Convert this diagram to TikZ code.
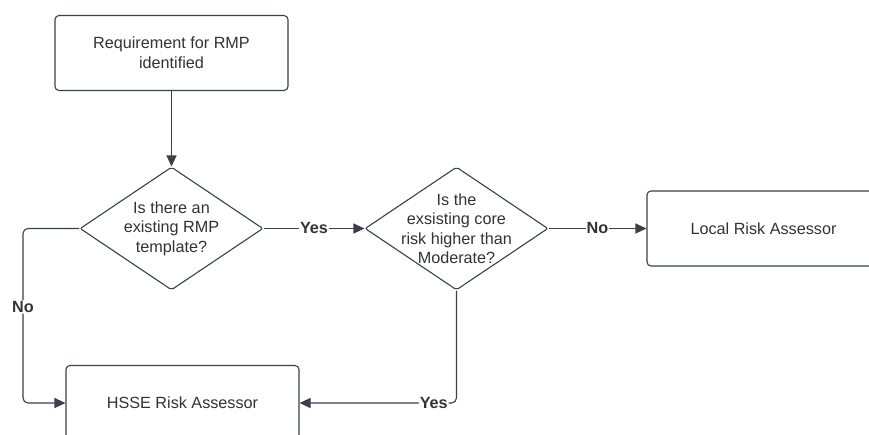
\documentclass[tikz,border=0pt]{standalone}
\usepackage{fontspec}
\setmainfont{Liberation Sans}
\usetikzlibrary{arrows.meta,shapes.geometric}
\definecolor{ink}{HTML}{3A414A}
\definecolor{txt}{HTML}{333333}
\tikzset{
  every picture/.style={x=1pt,y=-1pt},
  proc/.style={draw=ink, line width=1.1pt, rounded corners=4pt, fill=white,
    minimum width=233pt, minimum height=75pt, inner sep=0pt, text=txt,
    align=center, font=\fontsize{16.2}{20}\selectfont},
  decision/.style={draw=ink, line width=1.1pt, shape=diamond, rounded corners=2pt,
    minimum width=183pt, minimum height=123pt, inner sep=0pt, aspect=1.49},
  dtext/.style={text=txt, align=center, font=\fontsize{16.2}{19.5}\selectfont},
  flow/.style={draw=ink, line width=1.1pt, -{Triangle[length=11pt,width=10pt]}},
  lbl/.style={fill=white, text=txt, inner sep=1pt, font=\bfseries\fontsize{16.2}{18}\selectfont}
}
\begin{document}
\begin{tikzpicture}
  \useasboundingbox (0,0) rectangle (869,434);
  \clip (0,0) rectangle (869,434);
  \fill[white] (0,0) rectangle (869,434);

  % process boxes
  \node[proc] (req) at (171.5,53) {Requirement for RMP\\identified};
  \node[proc] (local) at (763.5,228.5) {Local Risk Assessor};
  \node[proc] (hsse) at (182.5,403) {HSSE Risk Assessor};

  % decisions
  \node[decision, label={[dtext]center:{Is there an\\existing RMP\\template?}}] (tmpl) at (171.5,228.5) {};
  \node[decision, label={[dtext]center:{Is the\\exsisting core\\risk higher than\\Moderate?}}] (risk) at (456.5,228.5) {};

  % connectors
  \draw[flow] (req.south) -- (tmpl.north);
  \draw[flow] (tmpl.east) -- node[lbl] {Yes} (risk.west);
  \draw[flow] (risk.east) -- node[lbl] {No} (local.west);
  \draw[flow, rounded corners=5pt] (tmpl.west) -- (23,228.5) -- node[lbl, pos=0.45] {No} (23,403) -- (hsse.west);
  \draw[flow, rounded corners=5pt] (risk.south) -- (456.5,403) -- node[lbl, pos=0.145] {Yes} (hsse.east);
\end{tikzpicture}
\end{document}
